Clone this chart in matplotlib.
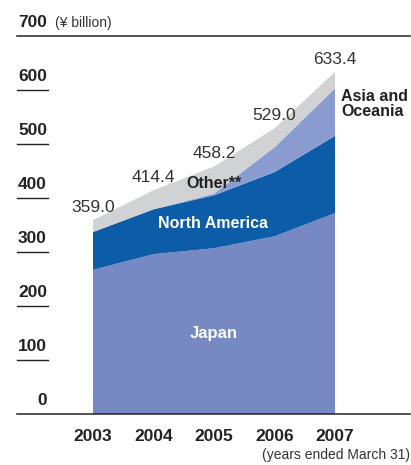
import matplotlib.pyplot as plt
import numpy as np

plt.rcParams['font.family'] = ['Liberation Sans Narrow', 'Liberation Sans', 'DejaVu Sans']

years = [2003, 2004, 2005, 2006, 2007]
japan = [267, 296, 307, 329, 372]
north_america = [70, 83, 98, 119, 143]
asia_oceania = [0, 0, 3, 46, 88]
totals = [359.0, 414.4, 458.2, 529.0, 633.4]
other = [t - j - n - a for t, j, n, a in zip(totals, japan, north_america, asia_oceania)]
y_ticks = [0, 100, 200, 300, 400, 500, 600, 700]

c_japan = "#7689c2"
c_na = "#0d5ca8"
c_asia = "#8b9dd0"
c_other = "#d0d2d4"

fig = plt.figure(figsize=(4.11, 4.65), dpi=100)
ax = fig.add_axes([17/411, 51/465, 393/411, 378/465])
ax.set_xlim(2003 - 76/60.5, 2003 + 317/60.5)
ax.set_ylim(0, 700)
ax.axis("off")

ax.stackplot(years, japan, north_america, asia_oceania, other,
             colors=[c_japan, c_na, c_asia, c_other], linewidth=0)

# gridlines: full width for 0 and 700, short stubs for the rest
for v in y_ticks:
    if v in (0, 700):
        ax.axhline(v, xmin=0, xmax=1, color="#222222", lw=1.1, clip_on=False)
    else:
        ax.axhline(v, xmin=0, xmax=31/393, color="#222222", lw=1.0, clip_on=False)
    ax.text(2003 - 46/60.5, v + 12, str(v), ha="right", va="bottom",
            fontsize=12.5, fontweight="bold", color="#222222")

ax.text(2003 - 38/60.5, 700 + 12, "(\u00a5 billion)", ha="left", va="bottom",
        fontsize=10, color="#333333")

for yr, t in zip(years, totals):
    ax.text(yr, t + 10, "%.1f" % t, ha="center", va="bottom",
            fontsize=12.5, color="#333333")
    ax.text(yr, -22/0.54, str(yr), ha="center", va="center",
            fontsize=12.5, fontweight="bold", color="#222222")

ax.text(2003 + 317/60.5, -41/0.54, "(years ended March 31)", ha="right", va="center",
        fontsize=10, color="#333333")

ax.text(2005, 150, "Japan", ha="center", va="center", fontsize=12,
        fontweight="bold", color="white")
ax.text(2004.99, 352, "North America", ha="center", va="center", fontsize=11.5,
        fontweight="bold", color="white")
ax.text(2005, 427, "Other**", ha="center", va="center", fontsize=11.5,
        fontweight="bold", color="#222222")
ax.text(2007 + 6/60.5, 574, "Asia and\nOceania", ha="left", va="center", fontsize=11.5,
        fontweight="bold", color="#222222", linespacing=1.05)

fig.savefig("out.png", dpi=100)
